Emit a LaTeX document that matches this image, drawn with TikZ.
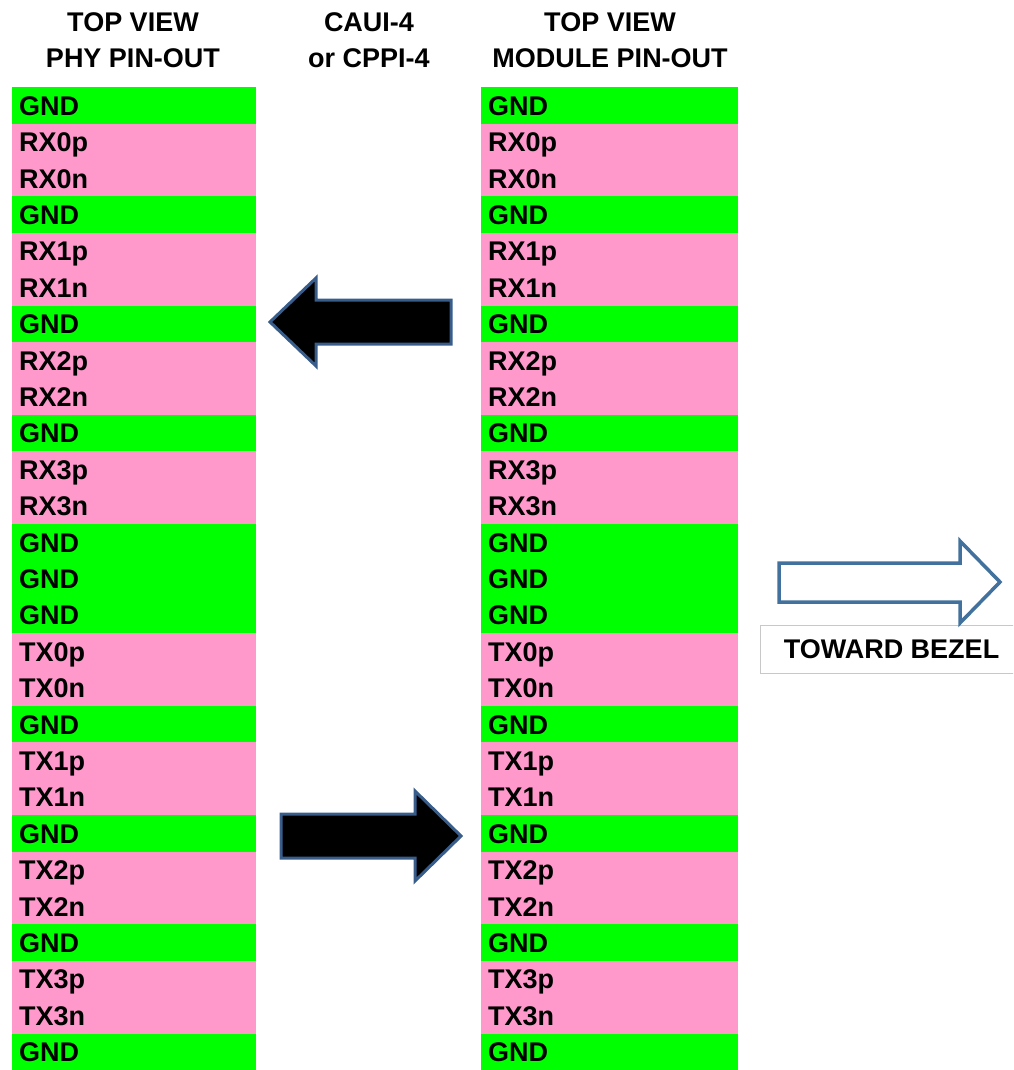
\documentclass[tikz,border=0pt]{standalone}
\usepackage{fontspec}
\setmainfont{Liberation Sans}
\definecolor{gndgreen}{HTML}{00FF00}
\definecolor{sigpink}{HTML}{FF99CC}
\definecolor{arrowedge}{HTML}{385D8A}
\definecolor{bezelblue}{HTML}{41719C}
\definecolor{boxgray}{HTML}{C8C8C8}
\begin{document}
\begin{tikzpicture}[x=1pt,y=-1pt,
  font=\fontsize{27}{36}\selectfont\bfseries,
  pin/.style={anchor=north west, inner xsep=7pt, inner ysep=0pt,
    text height=19.5pt, text depth=0pt, minimum height=36.7pt, align=left},
  hdr/.style={anchor=north, align=center, inner sep=0pt},
  blockarrow/.style={fill=black, draw=arrowedge, line width=3pt, line join=miter},
  bezelarrow/.style={fill=white, draw=bezelblue, line width=3.5pt, line join=miter},
  bezelbox/.style={draw=boxgray, line width=1pt, anchor=north west,
    minimum width=262pt, minimum height=48pt, inner sep=0pt}]
\useasboundingbox (0,0) rectangle (1013,1070);
\clip (0,0) rectangle (1013,1070);

% headers
\node[hdr] (hphy) at (133,12) {TOP VIEW\\PHY PIN-OUT};
\node[hdr] (hcaui) at (369,12) {CAUI-4\\or CPPI-4};
\node[hdr] (hmod) at (610,12) {TOP VIEW\\MODULE PIN-OUT};

% pin columns
\foreach \lab/\col [count=\i] in {GND/gndgreen,RX0p/sigpink,RX0n/sigpink,GND/gndgreen,
  RX1p/sigpink,RX1n/sigpink,GND/gndgreen,RX2p/sigpink,RX2n/sigpink,GND/gndgreen,
  RX3p/sigpink,RX3n/sigpink,GND/gndgreen,GND/gndgreen,GND/gndgreen,
  TX0p/sigpink,TX0n/sigpink,GND/gndgreen,TX1p/sigpink,TX1n/sigpink,GND/gndgreen,
  TX2p/sigpink,TX2n/sigpink,GND/gndgreen,TX3p/sigpink,TX3n/sigpink,GND/gndgreen}{
  \pgfmathsetmacro\yy{87+(\i-1)*36.4}
  \node[pin, fill=\col, text width=230pt] (l\i) at (12,\yy) {\lab};
  \node[pin, fill=\col, text width=243pt] (r\i) at (481,\yy) {\lab};
}

% black block arrows
\draw[blockarrow] (270,322) -- (316,278) -- (316,300) -- (451,300) -- (451,344)
  -- (316,344) -- (316,366) -- cycle;
\draw[blockarrow] (281,814) -- (415,814) -- (415,791) -- (461,836) -- (415,881)
  -- (415,858) -- (281,858) -- cycle;

% toward bezel
\node[bezelbox] (bezel) at (760,625) {TOWARD BEZEL};
\draw[bezelarrow] (779,563) -- (960,563) -- (960,541) -- (1000,582) -- (960,623)
  -- (960,602) -- (779,602) -- cycle;
\end{tikzpicture}
\end{document}
